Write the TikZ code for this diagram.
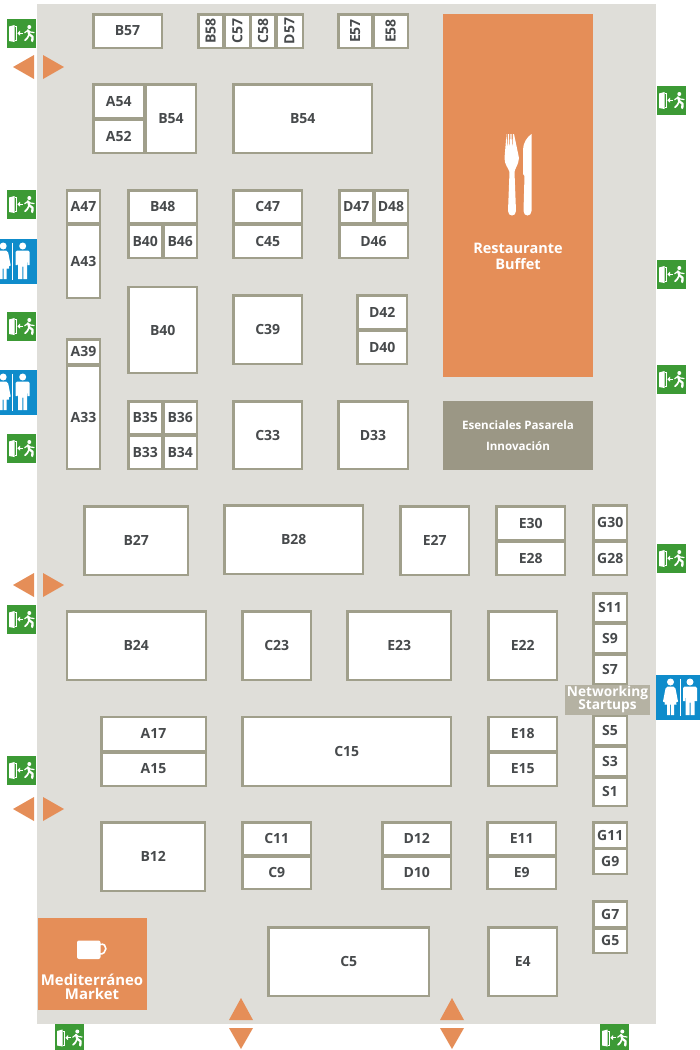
\documentclass[tikz,border=0pt]{standalone}
\usepackage{fontspec}
\setmainfont{Open Sans}
\definecolor{hall}{HTML}{DFDED9}
\definecolor{standline}{HTML}{A09F8B}
\definecolor{standtext}{HTML}{474A4C}
\definecolor{venue}{HTML}{E58E58}
\definecolor{esencial}{HTML}{9B9785}
\definecolor{startup}{HTML}{B5B2A3}
\definecolor{exitgreen}{HTML}{3C9A35}
\definecolor{wcblue}{HTML}{0F8CCB}
\tikzset{
	stand/.style = {draw=standline, fill=white, line width=2.2pt, inner sep=0pt,
		text=standtext, font=\fontsize{14}{14}\selectfont\bfseries},
	venuebox/.style = {fill=venue, inner sep=0pt},
	venuetext/.style = {text=white, align=center, inner sep=0pt,
		font=\fontsize{14.5}{16}\selectfont\bfseries},
	arrowmark/.style = {fill=venue, draw=none},
	exitsign/.pic = {
		\fill[exitgreen] (-14.5,-14.5) rectangle (14.5,14.5);
		\fill[white] (-12.5,-7) -- (-7,-8.5) -- (-7,8.5) -- (-12.5,7.5) -- cycle;
		\draw[white, line width=.7pt] (-7,-7) -- (-5,-7) -- (-5,7) -- (-7,7);
		\draw[white, line width=1.2pt] (1,-.3) -- (-2,-.3);
		\fill[white] (-4.2,-.3) -- (-1.5,-2.8) -- (-1.5,2.2) -- cycle;
		\fill[white] (7.8,-6.5) circle (2);
		\draw[white, line width=2.3pt, line cap=round, line join=round]
			(6.5,-3.2) -- (7.8,.8) -- (11,3.2) -- (10.8,7.5);
		\draw[white, line width=1.7pt, line cap=round, line join=round]
			(7.8,.8) -- (5.8,4.5) -- (3.5,6.8);
		\draw[white, line width=1.2pt, line cap=round, line join=round]
			(3.2,-.8) -- (6.5,-3.2) -- (9,-1.5) -- (12.5,-1);
	},
	wcsign/.pic = {
		\draw[white, line width=1pt] (0,-19) -- (0,18);
		% woman
		\fill[white] (-9.5,-15.5) circle (3.5);
		\fill[white] (-12.5,-11) -- (-6.5,-11) -- (-4.5,-9) -- (-2,4) -- (-4,5) -- (-6,-3)
			-- (-3.5,7) -- (-6,7) -- (-6,17.5) -- (-9,17.5) -- (-9,7) -- (-10,7)
			-- (-10,17.5) -- (-13,17.5) -- (-13,7) -- (-15.5,7) -- (-13,-3)
			-- (-15,5) -- (-17,4) -- (-14.5,-9) -- cycle;
		% man
		\fill[white] (10,-15.5) circle (3.5);
		\fill[white] (4.5,-11) -- (15.5,-11) -- (17,-9.5) -- (17,3.5) -- (15,3.5) -- (14.5,-3)
			-- (14.5,17.5) -- (10.6,17.5) -- (10.6,5) -- (9.6,5) -- (9.6,17.5) -- (5.5,17.5)
			-- (5.5,-3) -- (5,3.5) -- (3,3.5) -- (3,-9.5) -- cycle;
	},
}
\begin{document}
\begin{tikzpicture}[x=1pt, y=-1pt]
	\useasboundingbox (0,0) rectangle (700,1050);
	\clip (0,0) rectangle (700,1050);
	\fill[hall] (37,4) rectangle (656,1024);

	% stands: name, left, top, right, bottom
	\foreach \nm/\xa/\ya/\xb/\yb in {
		B57/93/14/162/48, A54/93/84/144.5/118.5, A52/93/119.5/144.5/153.5, B54/145.5/84/196.5/153.5,
		A47/66.5/190/100.5/223.5, A43/66.5/224.5/100.5/298.5, B48/128/190/197.5/223.5,
		B40/128/224.5/162.5/258.5, B46/163/224.5/197.5/258.5, C47/233/190/302.5/223.5,
		C45/233/224.5/302.5/258.5, D47/339/190/373.5/223.5, D48/374/190/408/223.5,
		D46/339/224.5/408/258.5, C39/233/295/302.5/364.5,
		D42/357/295/407.5/329, D40/357/330/407.5/364.5, A39/66.5/339/100.5/364.5,
		A33/66.5/365.5/100.5/469.5, B35/128/401/162.5/434.5, B36/163/401/197.5/434.5,
		B33/128/435.5/162.5/469.5, B34/163/435.5/197.5/469.5, C33/233/401/302.5/469.5,
		D33/338/401/408/469.5,
		B27/84/506/188.5/575, B28/224/505/363.5/574.5, E27/400/506/469.5/575,
		E30/496/506/565.5/540, E28/496/541/565.5/575, G30/593/505/627.5/540,
		G28/593/541/627.5/575, S11/593/593/627/622.5, S9/593/623.5/627/653.5,
		S7/593/654.5/627/684, S5/593/715/627/745, S3/593/746/627/776, S1/593/777/627/806.5,
		B24/66.5/611/206/680.5, C23/242/611/311.5/680.5, E23/347/611/451.5/680.5,
		E22/488/611/557.5/680.5, A17/101/716.5/206/751, A15/101/752/206/786,
		C15/242/716.5/451.5/786, E18/488/716.5/557.5/751, E15/488/752/557.5/786,
		B12/101/822/205.5/891.5, C11/242/822/311.5/855.5, C9/242/856/311.5/889.5,
		D12/382/822/451.5/855.5, D10/382/856/451.5/889.5, E11/487/822/556.5/855.5,
		E9/487/856/556.5/889.5, G11/593/822/627.5/848, G9/593/848.5/627.5/874.5,
		G7/593/901/627.5/927.5, G5/593/928/627.5/953.5, C5/268/927/429.5/996.5,
		E4/488/927/557.5/996.5} {
		\pgfmathsetmacro\w{\xb-\xa-.8}
		\pgfmathsetmacro\h{\yb-\ya-.8}
		\node[stand, minimum width=\w pt, minimum height=\h pt] (\nm)
			at ({(\xa+\xb)/2},{(\ya+\yb)/2}) {\nm};
	}

	% second B54 and B40
	\node[stand, minimum width=138.7pt, minimum height=68.7pt] (B54big) at (302.75,118.75) {B54};
	\node[stand, minimum width=68.7pt, minimum height=86.2pt] (B40big) at (162.75,330) {B40};

	% stands with turned labels
	\foreach \nm/\xa/\xb in {B58/198/223.5, C57/224.5/250, C58/250.5/275.5,
		D57/276/303, E57/338/372.5, E58/373.5/408} {
		\pgfmathsetmacro\w{\xb-\xa-.8}
		\node[stand, rotate=90, minimum width=33.2pt, minimum height=\w pt] (\nm)
			at ({(\xa+\xb)/2},31) {\nm};
	}

	% venues
	\node[venuebox, minimum width=150pt, minimum height=363pt] (buffet) at (518,195.5) {};
	\node[venuetext] (buffetname) at (518,256) {Restaurante\\Buffet};
	\fill[white] (506.5,134) -- (507.3,150) -- (508,134) -- (509,134) -- (509.7,150) -- (510.5,134)
		-- (511.5,134) -- (512.2,150) -- (513,134) -- (514,134) -- (519,158)
		.. controls (518.5,165) and (515,168) .. (514.5,172)
		-- (516,211) .. controls (516,217) and (508,217) .. (508,211)
		-- (509.5,172) .. controls (508.5,168) and (504.5,165) .. (504.5,158) -- cycle;
	\fill[white] (531.5,134) -- (531.5,211) .. controls (531.5,217) and (523.5,217) .. (523.5,211)
		-- (524.5,176) -- (523,174) -- (523,150) .. controls (523,143) and (527,137) .. (531.5,134) -- cycle;
	\node[fill=esencial, minimum width=150pt, minimum height=69pt, text=white, align=center,
		inner sep=0pt, font=\fontsize{11.6}{20.5}\selectfont\bfseries] (esenciales) at (518,435.5)
		{Esenciales Pasarela\\Innovación};
	\node[fill=startup, minimum width=85pt, minimum height=30pt, text=white, align=center,
		inner sep=0pt, font=\fontsize{13.7}{13.5}\selectfont\bfseries] (networking) at (607.5,699.5)
		{Networking\\Startups};
	\node[venuebox, minimum width=109pt, minimum height=92pt] (market) at (92.5,964) {};
	\node[venuetext, font=\fontsize{14.9}{14}\selectfont\bfseries] (marketname) at (92,987) {Mediterráneo\\Market};
	\draw[white, line width=1.6pt] (100,944.5) .. controls (108,942) and (108,955) .. (99,954);
	\fill[white, rounded corners=2pt] (77,940.5) -- (100.5,940.5) -- (100.5,959) -- (77,959) -- cycle;

	% exits
	\foreach \x/\y in {21.5/33.5, 21.5/204.5, 21.5/326.5, 21.5/448.5, 21.5/619.5, 21.5/770.5,
		671.5/100.5, 671.5/274.5, 671.5/379.5, 671.5/558.5, 69.5/1038, 614.5/1038}
		\pic at (\x,\y) {exitsign};

	% toilets: left, right, divider, middle
	\foreach \xa/\xb/\x/\y in {0/37/12.7/261.5, 0/37/12.7/392.5, 656/700/680/697.5} {
		\fill[wcblue] (\xa,\y-22.5) rectangle (\xb,\y+22.5);
		\pic at (\x,\y) {wcsign};
	}

	% arrows
	\foreach \y in {67, 585, 809} {
		\fill[arrowmark] (34,\y-12) -- (34,\y+12) -- (13,\y) -- cycle;
		\fill[arrowmark] (43,\y-12) -- (43,\y+12) -- (64,\y) -- cycle;
	}
	\foreach \x in {241, 452} {
		\fill[arrowmark] (\x-12,1020) -- (\x+12,1020) -- (\x,998) -- cycle;
		\fill[arrowmark] (\x-12,1028) -- (\x+12,1028) -- (\x,1049) -- cycle;
	}
\end{tikzpicture}
\end{document}
